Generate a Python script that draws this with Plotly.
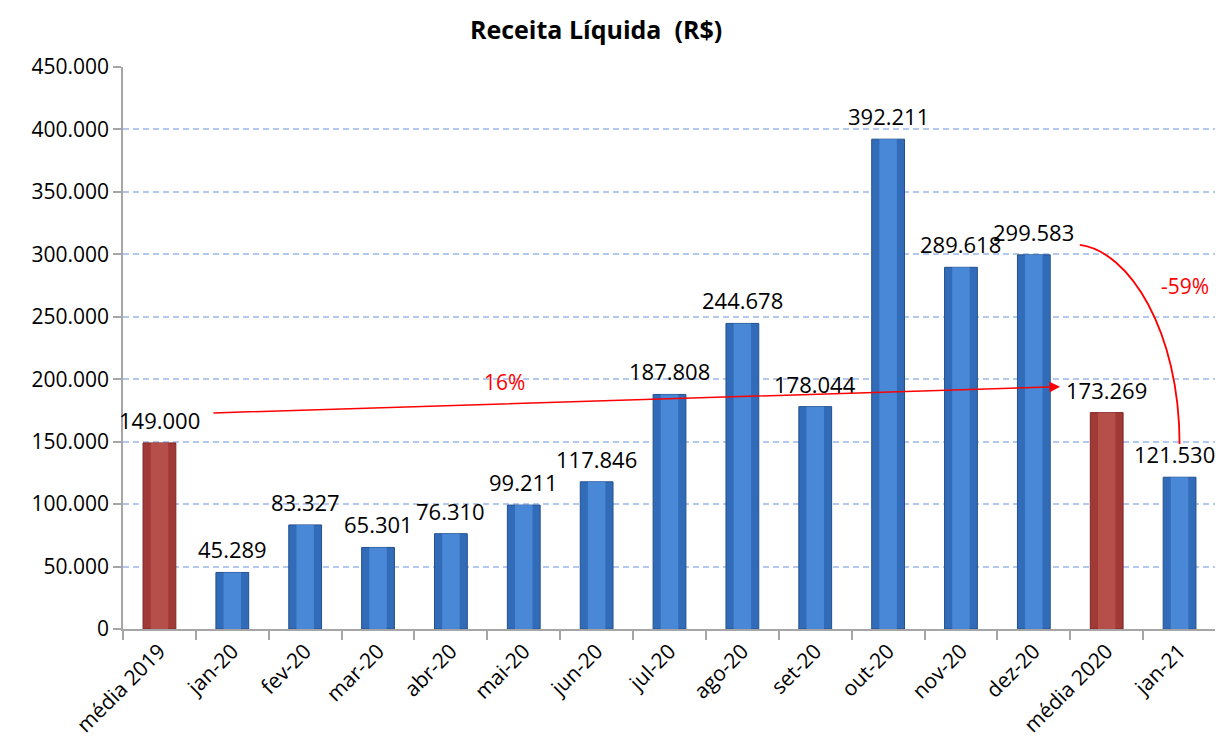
import plotly.graph_objects as go

categories = ["média 2019", "jan-20", "fev-20", "mar-20", "abr-20", "mai-20", "jun-20",
              "jul-20", "ago-20", "set-20", "out-20", "nov-20", "dez-20", "média 2020", "jan-21"]
values = [149000, 45289, 83327, 65301, 76310, 99211, 117846,
          187808, 244678, 178044, 392211, 289618, 299583, 173269, 121530]
is_average = [True, False, False, False, False, False, False,
              False, False, False, False, False, False, True, False]
y_ticks = [0, 50000, 100000, 150000, 200000, 250000, 300000, 350000, 400000, 450000]

FONT = "Open Sans"
xs = list(range(len(categories)))

base_col = ["#A13A37" if a else "#326CB8" for a in is_average]
edge_col = ["#7A2826" if a else "#22508E" for a in is_average]
mid_col = ["#BA524E" if a else "#4C8DDC" for a in is_average]

fig = go.Figure()
fig.add_trace(go.Bar(x=xs, y=values, width=0.45,
                     marker=dict(color=base_col, line=dict(color=edge_col, width=1)),
                     hoverinfo="skip", showlegend=False))
fig.add_trace(go.Bar(x=xs, y=values, width=0.24,
                     marker=dict(color=mid_col, line=dict(width=0), opacity=0.85),
                     hoverinfo="skip", showlegend=False))

for x, v in zip(xs, values):
    fig.add_annotation(x=x, y=v, text=f"{v:,}".replace(",", "."), showarrow=False,
                       yanchor="bottom", yshift=6, xshift=(-5 if x == len(xs) - 1 else 0),
                       font=dict(family=FONT, size=22, color="#000"))

# straight growth arrow média 2019 -> média 2020
fig.add_annotation(x=12.36, y=194000, ax=0.72, ay=173000, axref="x", ayref="y",
                   xref="x", yref="y", text="", showarrow=True, arrowhead=2,
                   arrowsize=1.4, arrowwidth=1.5, arrowcolor="#FF0000")
fig.add_annotation(x=4.74, y=198000, text="16%", showarrow=False,
                   font=dict(family=FONT, size=21, color="#FF0000"))

# curved arrow dez-20 -> jan-21
fig.add_shape(type="path", xref="x", yref="y",
              path="M 12.63,307500 C 13.31,302700 14.0,238300 14.0,148100",
              line=dict(color="#FF0000", width=1.8))
fig.add_annotation(x=14.07, y=274500, text="-59%", showarrow=False,
                   font=dict(family=FONT, size=21, color="#FF0000"))

fig.update_layout(
    width=1215, height=739,
    margin=dict(l=115, r=7, t=59, b=118),
    paper_bgcolor="white", plot_bgcolor="white",
    barmode="overlay", separators=",.",
    font=dict(family=FONT, size=21, color="#000"),
    title=dict(text="<b>Receita Líquida  (R$)</b>", x=0.484, xanchor="center",
               y=0.970, yanchor="middle", xref="container", yref="container",
               font=dict(family=FONT, size=25, color="#000")),
)
fig.update_xaxes(range=[-0.5, len(categories) - 0.5], tickmode="array", tickvals=xs,
                 ticktext=categories, tickangle=-45, ticks="", showgrid=False,
                 showline=True, linecolor="#A6A6A6", linewidth=1.5, zeroline=False,
                 tickfont=dict(family=FONT, size=21, color="#000"),
                 minor=dict(tickmode="array", tickvals=[i - 0.5 for i in range(len(categories) + 1)],
                            ticks="outside", ticklen=9, tickcolor="#A6A6A6", tickwidth=1.5,
                            showgrid=False))
fig.update_yaxes(range=[0, 450000], tickmode="array", tickvals=y_ticks,
                 tickformat=",.0f", ticks="outside", ticklen=8, tickcolor="#A6A6A6",
                 tickwidth=1.5, showline=True, linecolor="#A6A6A6", linewidth=1.5,
                 showgrid=True, gridcolor="#B4C7EE", griddash="6px,4px", gridwidth=1.5,
                 zeroline=False, tickfont=dict(family=FONT, size=21, color="#000"))

fig.write_html("out.html")
